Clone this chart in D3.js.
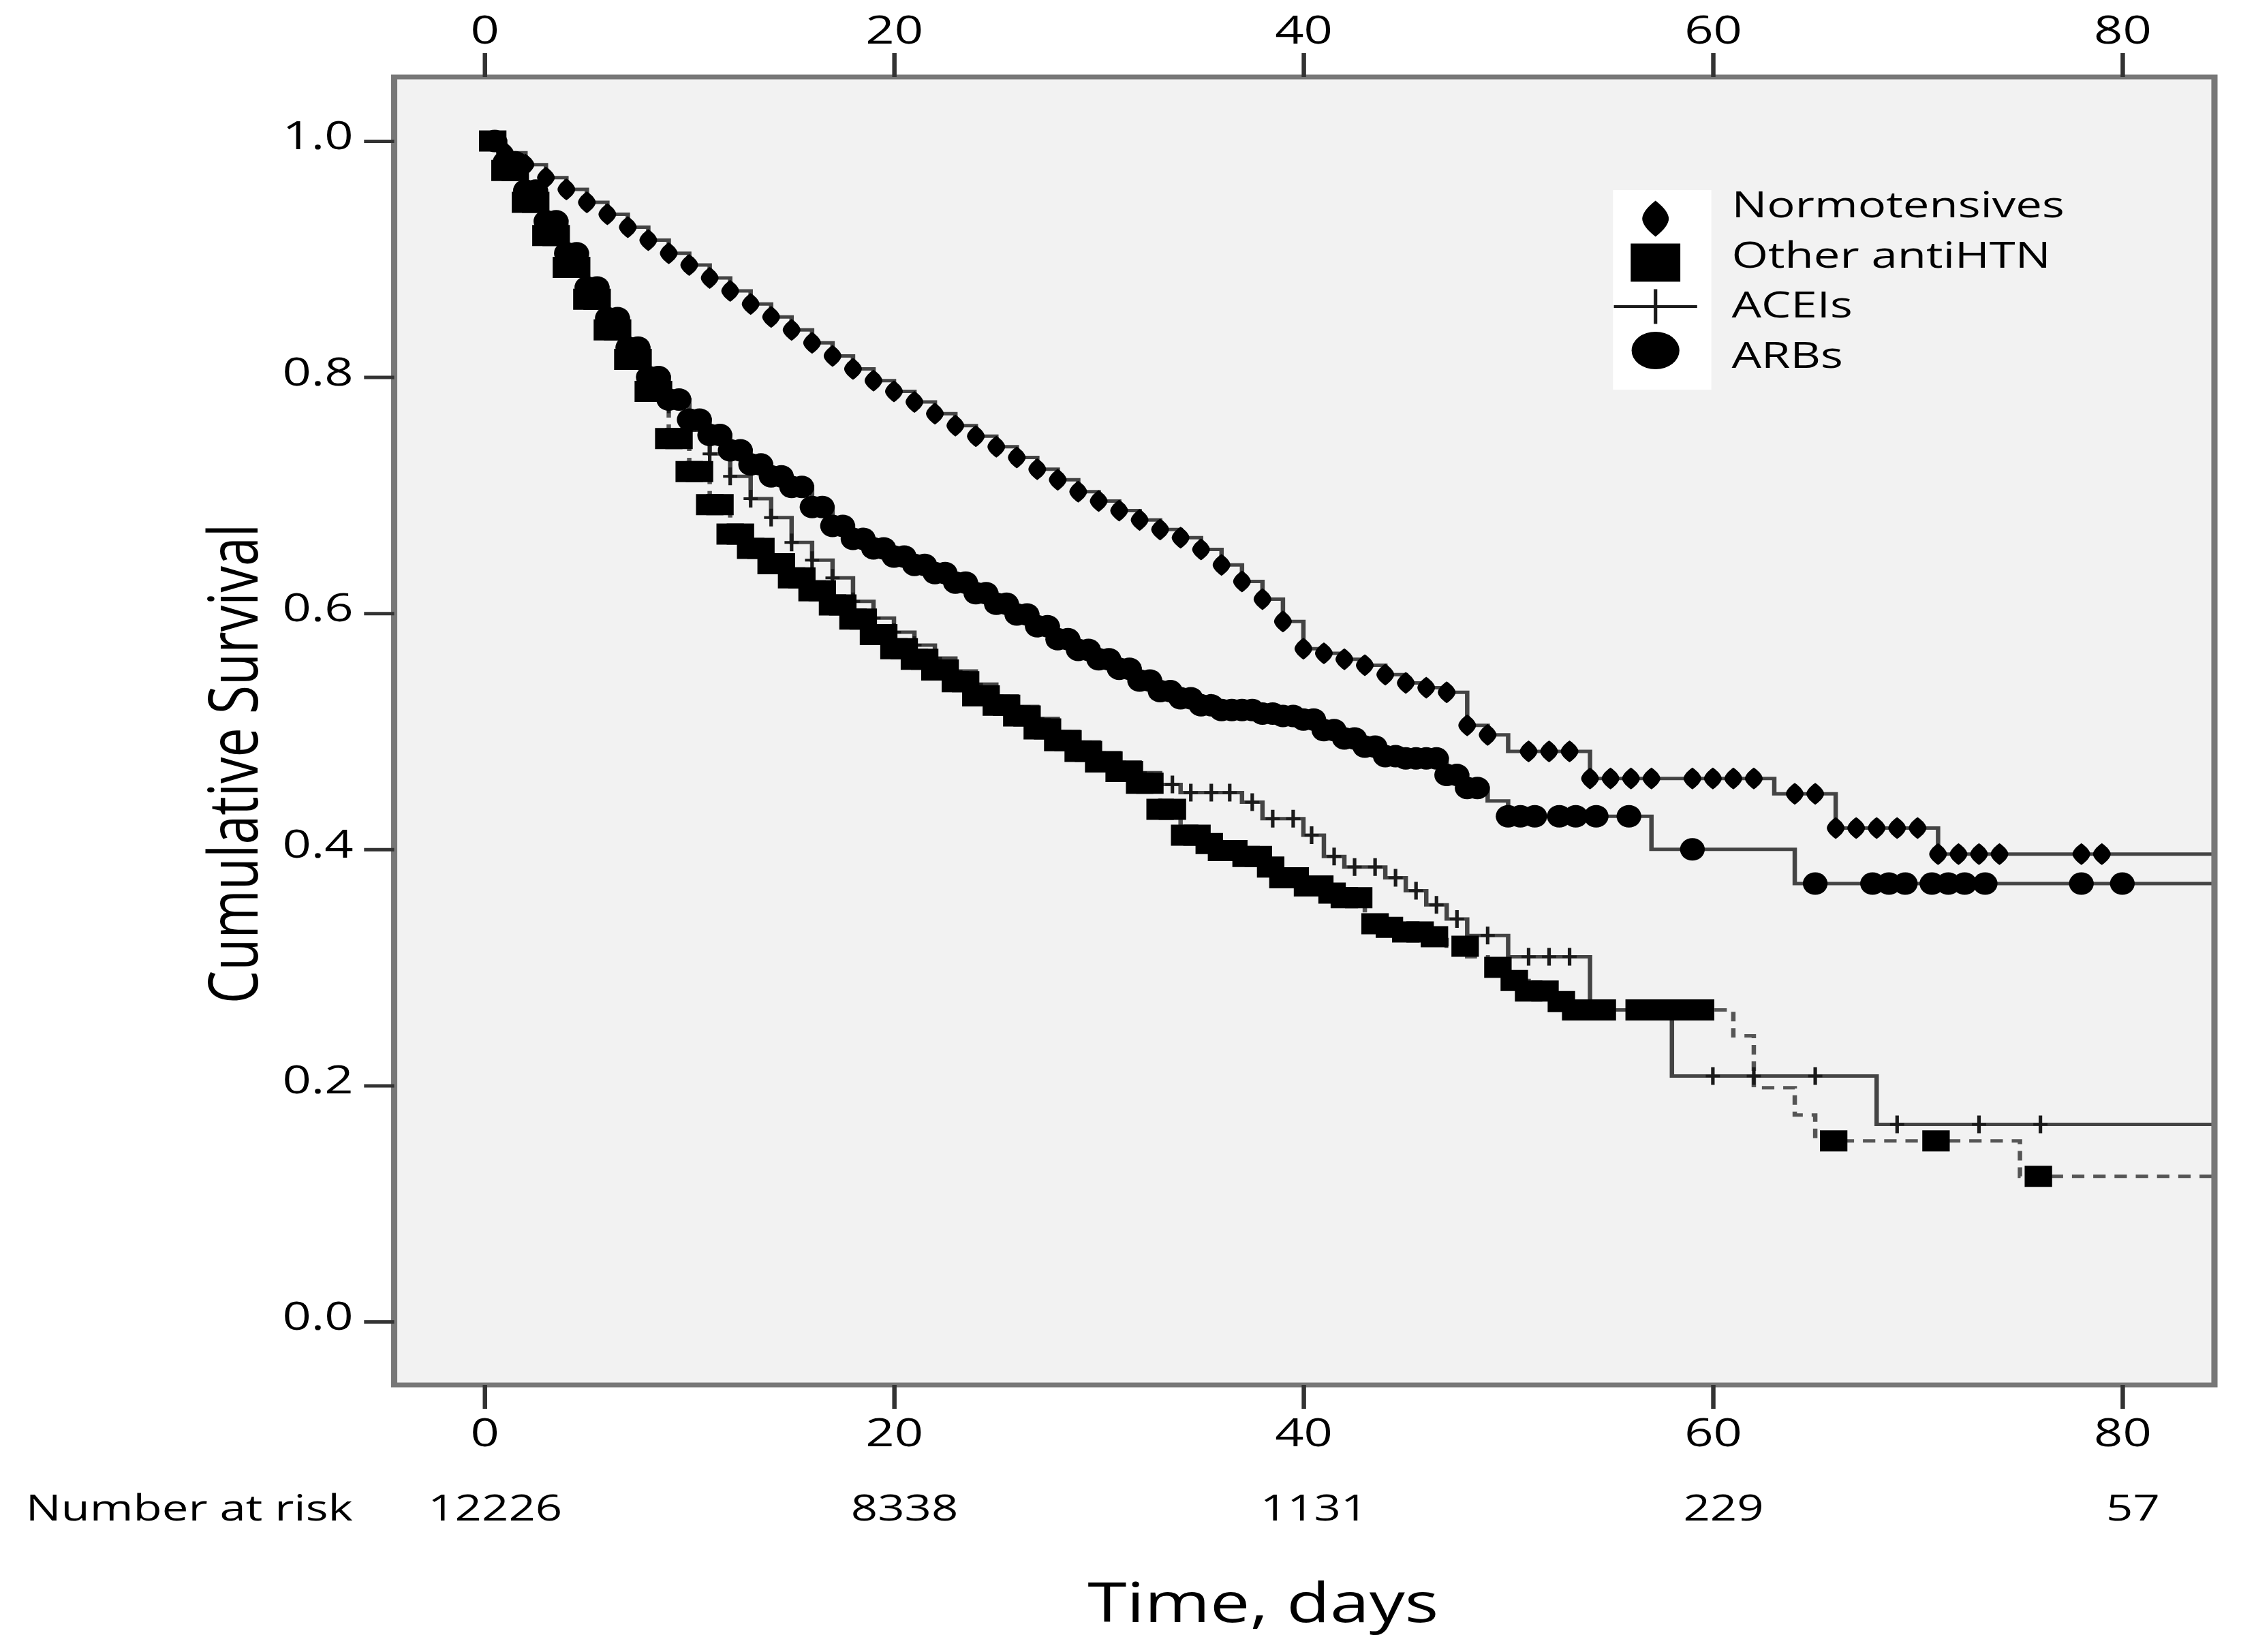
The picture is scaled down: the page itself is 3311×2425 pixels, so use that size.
<!DOCTYPE html>
<html>
<head>
<meta charset="utf-8">
<script src="https://cdn.jsdelivr.net/npm/d3@7"></script>
<style>
  body { margin: 0; background: #fff; }
  text { font-family: "Open Sans", sans-serif; fill: #000; }
</style>
</head>
<body>
<div id="chart"></div>
<script>
// Kaplan-Meier survival by antihypertensive group

// Normotensives: step times, survival after each step, censor marks
var normoTime = [0,1,2,3,4,5,6,7,8,9,10,11,12,13,14,15,16,17,18,19,20,21,22,23,24,25,26,27,28,29,30,
    31,32,33,34,35,36,37,38,39,40,41,42,43,44,45,46,47,48,49,50,54,63,66,71];
var normoSurv = [1.000,0.990,0.980,0.969,0.959,0.948,0.938,0.927,0.916,0.905,0.895,0.884,0.873,0.862,0.851,
    0.840,0.829,0.818,0.807,0.797,0.788,0.779,0.769,0.759,0.750,0.741,0.732,0.722,0.713,0.703,0.695,
    0.687,0.679,0.671,0.664,0.654,0.641,0.627,0.612,0.593,0.570,0.566,0.561,0.556,0.548,0.541,0.537,
    0.533,0.505,0.497,0.483,0.460,0.447,0.418,0.396];
var normoCensor = [1,2,3,4,5,6,7,8,9,10,11,12,13,14,15,16,17,18,19,20,21,22,23,24,25,26,27,28,29,30,
    31,32,33,34,35,36,37,38,39,40,41,42,43,44,45,46,47,48,49,51,52,53,54,55,56,57,59,60,61,62,
    64,65,66,67,68,69,70,71,72,73,74,78,79];

// Other antiHTN
var otherTime = [0,1,2,3,4,5,6,7,8,9,10,11,12,13,14,15,16,17,18,19,20,21,22,23,24,25,26,27,28,29,30,
    31,32,33,34,35,36,37,38,39,40,41,42,43,44,45,46,47,48,49,50,51,52,53,61,62,64,65,75];
var otherSurv = [1.000,0.975,0.948,0.920,0.893,0.866,0.840,0.815,0.788,0.748,0.720,0.692,0.667,0.655,0.642,
    0.630,0.619,0.607,0.595,0.582,0.570,0.561,0.552,0.542,0.530,0.522,0.513,0.502,0.492,0.483,0.474,
    0.466,0.456,0.434,0.412,0.405,0.399,0.394,0.385,0.376,0.369,0.363,0.359,0.337,0.334,0.330,0.326,
    0.318,0.309,0.300,0.289,0.280,0.271,0.264,0.242,0.198,0.175,0.153,0.123];
var otherCensor = [0.4,1,1.5,2,2.5,3,3.5,4,4.5,5,5.5,6,6.5,7,7.5,8,8.5,9,9.5,10,10.5,11,11.5,12,12.5,
    13,13.5,14,14.5,15,15.5,16,16.5,17,17.5,18,18.5,19,19.5,20,20.5,21,21.5,22,22.5,23,23.5,24,24.5,
    25,25.5,26,26.5,27,27.5,28,28.5,29,29.5,30,30.5,31,31.5,32,32.5,33,33.6,34.2,34.8,35.4,36,36.6,
    37.2,37.8,38.4,39,39.6,40.2,40.8,41.4,42,42.7,43.5,44.2,45,45.7,46.4,47.9,49.5,50.3,51,51.8,
    52.6,53.3,54.6,56.4,57,57.6,58.2,58.8,59.4,65.9,70.9,75.9];

// ACEIs
var aceTime = [0,1,2,3,4,5,6,7,8,9,10,11,12,13,14,15,16,17,18,19,20,21,22,23,24,25,26,27,28,29,30,
    31,32,33,34,37,38,40,41,42,44,45,46,47,48,50,54,58,68];
var aceSurv = [1.000,0.978,0.952,0.925,0.898,0.872,0.847,0.823,0.800,0.777,0.755,0.735,0.716,0.697,0.681,
    0.660,0.645,0.630,0.610,0.596,0.584,0.573,0.562,0.551,0.540,0.530,0.521,0.511,0.500,0.491,0.482,
    0.474,0.465,0.455,0.448,0.440,0.426,0.412,0.394,0.385,0.376,0.365,0.353,0.341,0.327,0.309,0.264,
    0.208,0.167];
var aceCensor = [1,2,3,4,5,6,7,8,9,10,11,12,13,14,15,16,17,18,19,20,21,22,23,24,25,26,27,28,29,30,
    31,32,33.6,34.5,35.5,36.4,37.5,38.5,39.5,40.4,41.5,42.5,43.5,44.5,45.5,46.5,47.5,49,51,52,53,
    60,62,65,69,73,76];

// ARBs
var arbTime = [0,1,2,3,4,5,6,7,8,9,10,11,12,13,14,15,16,17,18,19,20,21,22,23,24,25,26,27,28,29,30,
    31,32,33,34,35,36,38,39,40,41,42,43,44,45,47,48,49,50,57,64];
var arbSurv = [1.000,0.982,0.958,0.932,0.905,0.876,0.850,0.825,0.800,0.781,0.764,0.751,0.738,0.726,0.716,
    0.707,0.690,0.674,0.663,0.655,0.648,0.641,0.634,0.626,0.617,0.608,0.599,0.589,0.578,0.569,0.561,
    0.553,0.543,0.534,0.528,0.522,0.518,0.515,0.513,0.510,0.501,0.494,0.487,0.479,0.477,0.463,0.452,
    0.441,0.428,0.400,0.371];
var arbCensor = [0.5,1,1.5,2,2.5,3,3.5,4,4.5,5,5.5,6,6.5,7,7.5,8,8.5,9,9.5,10,10.5,11,11.5,12,12.5,
    13,13.5,14,14.5,15,15.5,16,16.5,17,17.5,18,18.5,19,19.5,20,20.5,21,21.5,22,22.5,23,23.5,24,24.5,
    25,25.5,26,26.5,27,27.5,28,28.5,29,29.5,30,30.5,31,31.5,32,32.5,33,33.5,34,34.5,35,35.5,36,36.5,
    37,37.5,38,38.5,39,39.5,40,40.5,41,41.5,42,42.5,43,43.5,44,44.5,45,45.5,46,46.5,47,47.5,48,48.5,
    50,50.6,51.3,52.5,53.3,54.3,55.9,59,65,67.8,68.6,69.4,70.7,71.5,72.3,73.3,78,80];

// last follow-up time, every curve is drawn flat out to here
var followUpEnd = 84.4;

// axis ticks and number-at-risk row
var xTicks = [0, 20, 40, 60, 80];
var yTicks = [0, 0.2, 0.4, 0.6, 0.8, 1.0];
var riskCounts = [12226, 8338, 1131, 229, 57];

var legendLabels = ["Normotensives", "Other antiHTN", "ACEIs", "ARBs"];

// SVG wrapper dimensions
var svgWidth = 3311;
var svgHeight = 2425;
// the figure is stretched sideways, everything below is drawn in unstretched units
var stretchX = 1.3;

var plot = { left: 445, right: 2500, top: 113, bottom: 2033 };

var svg = d3.select("#chart")
    .append("svg")
    .attr("width", svgWidth)
    .attr("height", svgHeight);

svg.append("rect").attr("width", svgWidth).attr("height", svgHeight).attr("fill", "white");

var root = svg.append("g").attr("transform", `scale(${stretchX},1)`);

var x = d3.scaleLinear().domain([0, 80]).range([547, 2396]);
var y = d3.scaleLinear().domain([0, 1]).range([1940, 207]);

// series table built from the arrays above
var series = [
    { name: legendLabels[0], times: normoTime, surv: normoSurv, censor: normoCensor, marker: "diamond", dash: null },
    { name: legendLabels[1], times: otherTime, surv: otherSurv, censor: otherCensor, marker: "square", dash: "14 10" },
    { name: legendLabels[2], times: aceTime, surv: aceSurv, censor: aceCensor, marker: "plus", dash: null },
    { name: legendLabels[3], times: arbTime, surv: arbSurv, censor: arbCensor, marker: "circle", dash: null }
];

// marker shapes, w and h in unstretched units
function markerPath(type, w, h) {
    if (type === "diamond") {
        return `M0,${-h / 2}C${w * 0.35},${-h * 0.3} ${w / 2},${-h * 0.12} ${w / 2},0` +
            `C${w / 2},${h * 0.12} ${w * 0.35},${h * 0.3} 0,${h / 2}` +
            `C${-w * 0.35},${h * 0.3} ${-w / 2},${h * 0.12} ${-w / 2},0` +
            `C${-w / 2},${-h * 0.12} ${-w * 0.35},${-h * 0.3} 0,${-h / 2}Z`;
    }
    if (type === "square") {
        return `M${-w / 2},${-h / 2}h${w}v${h}h${-w}Z`;
    }
    if (type === "circle") {
        return `M${-w / 2},0a${w / 2},${h / 2} 0 1,0 ${w},0a${w / 2},${h / 2} 0 1,0 ${-w},0Z`;
    }
    return `M${-w / 2},0H${w / 2}M0,${-h / 2}V${h / 2}`;
}

var plotSize = { diamond: [20, 32], square: [31, 31], circle: [28, 33], plus: [16, 26] };
var legendSize = { diamond: [30, 53], square: [56, 56], circle: [54, 55], plus: [94, 51] };

function styleMarker(sel, type) {
    if (type === "plus") {
        sel.attr("fill", "none").attr("stroke", "#1a1a1a").attr("stroke-width", 4);
    } else {
        sel.attr("fill", "#000").attr("stroke", "none");
    }
}

// survival at time t (step function, value after the step)
function survAt(s, t) {
    var i = d3.bisectRight(s.times, t) - 1;
    return s.surv[Math.max(i, 0)];
}

// plot background
root.append("rect")
    .attr("x", plot.left).attr("y", plot.top)
    .attr("width", plot.right - plot.left).attr("height", plot.bottom - plot.top)
    .attr("fill", "#f2f2f2");

// legend box
var legend = root.append("g");
legend.append("rect")
    .attr("x", 1821).attr("y", 279).attr("width", 111).attr("height", 293)
    .attr("fill", "white");

// step lines
var line = d3.line()
    .x(d => x(d[0]))
    .y(d => y(d[1]))
    .curve(d3.curveStepAfter);

var curves = root.append("g");
series.forEach(s => {
    var pts = s.times.map((t, i) => [t, s.surv[i]]);
    pts.push([followUpEnd, s.surv[s.surv.length - 1]]);
    curves.append("path")
        .attr("d", line(pts))
        .attr("fill", "none")
        .attr("stroke", s.dash ? "#555" : "#444")
        .attr("stroke-width", 5)
        .attr("stroke-dasharray", s.dash);
});

// censor marks, ACEIs first so the others sit on top
[2, 1, 3, 0].forEach(k => {
    var s = series[k];
    var sz = plotSize[s.marker];
    root.append("g").selectAll("path")
        .data(s.censor)
        .enter()
        .append("path")
        .attr("transform", t => `translate(${x(t)},${y(survAt(s, t))})`)
        .attr("d", markerPath(s.marker, sz[0], sz[1]))
        .call(styleMarker, s.marker);
});

// plot frame
root.append("rect")
    .attr("x", plot.left).attr("y", plot.top)
    .attr("width", plot.right - plot.left).attr("height", plot.bottom - plot.top)
    .attr("fill", "none")
    .attr("stroke", "#777")
    .attr("stroke-width", 7);

// axes
function styleAxis(g) {
    g.select(".domain").remove();
    g.attr("font-family", "Open Sans, sans-serif").attr("font-size", 57);
    g.selectAll(".tick line").attr("stroke", "#333").attr("stroke-width", 5);
    g.selectAll(".tick text").attr("fill", "#111");
}

root.append("g")
    .attr("transform", `translate(0,${plot.top})`)
    .call(d3.axisTop(x).tickValues(xTicks).tickSize(35).tickPadding(14))
    .call(styleAxis);

root.append("g")
    .attr("transform", `translate(0,${plot.bottom})`)
    .call(d3.axisBottom(x).tickValues(xTicks).tickSize(35).tickPadding(15))
    .call(styleAxis);

root.append("g")
    .attr("transform", `translate(${plot.left},0)`)
    .call(d3.axisLeft(y).tickValues(yTicks).tickFormat(d3.format(".1f")).tickSize(34).tickPadding(12))
    .call(styleAxis)
    .selectAll(".tick text").attr("dy", "0.2em");

// legend entries
series.forEach((s, i) => {
    var sz = legendSize[s.marker];
    legend.append("path")
        .attr("transform", `translate(1869,${321 + i * 64.5})`)
        .attr("d", markerPath(s.marker, sz[0], sz[1]))
        .call(styleMarker, s.marker);
    legend.append("text")
        .attr("x", 1955)
        .attr("y", 319 + i * 73.7)
        .attr("font-size", 53)
        .text(s.name);
});

// number at risk row
root.append("text")
    .attr("x", 29).attr("y", 2232)
    .attr("font-size", 53)
    .text("Number at risk");

root.append("g").selectAll("text")
    .data(riskCounts)
    .enter()
    .append("text")
    .attr("x", (d, i) => x(xTicks[i]) + 12)
    .attr("y", 2232)
    .attr("text-anchor", "middle")
    .attr("font-size", 53)
    .text(d => d);

// axis titles
root.append("text")
    .attr("x", 1426).attr("y", 2381)
    .attr("text-anchor", "middle")
    .attr("font-size", 80)
    .text("Time, days");

root.append("text")
    .attr("transform", "translate(291,1121) rotate(-90)")
    .attr("text-anchor", "middle")
    .attr("font-size", 77)
    .text("Cumulative Survival");
</script>
</body>
</html>
